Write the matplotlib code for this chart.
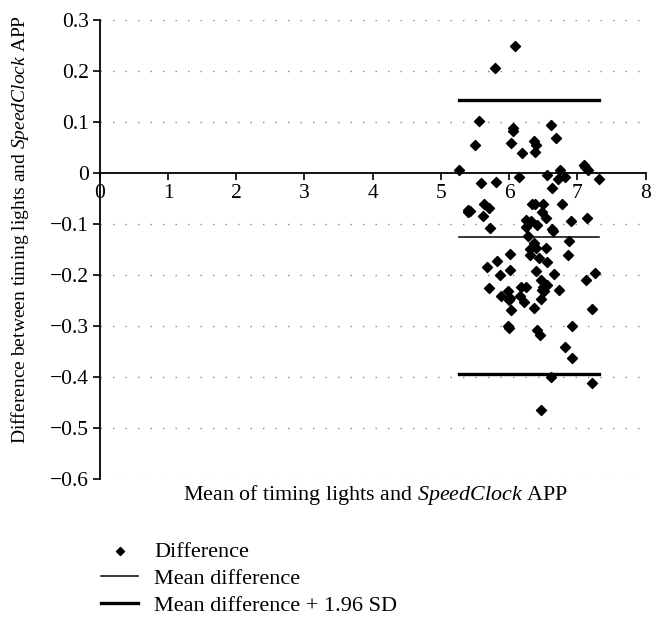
import matplotlib.pyplot as plt
from matplotlib.ticker import FuncFormatter

plt.rcParams['font.family'] = ['Liberation Serif', 'DejaVu Serif']
plt.rcParams['mathtext.fontset'] = 'custom'
plt.rcParams['mathtext.rm'] = 'Liberation Serif'
plt.rcParams['mathtext.it'] = 'Liberation Serif:italic'

# medias (eje x) y diferencias (eje y)
media = [6.09, 5.79, 5.55, 5.50, 6.05, 6.05, 6.03, 6.19, 6.36, 6.39,
         6.38, 6.61, 6.69, 5.27, 6.74, 7.09, 7.11, 7.15, 6.14, 6.56,
         6.72, 6.82, 7.31, 5.58, 5.81, 6.62, 5.63, 5.71, 5.40, 5.42,
         5.39, 5.62, 5.72, 6.33, 6.38, 6.50, 6.78, 6.48, 6.54, 6.25,
         6.32, 6.25, 6.40, 6.62, 6.64, 6.90, 7.14, 6.28, 6.87, 6.37,
         6.39, 6.30, 6.31, 6.54, 6.86, 6.01, 6.43, 5.82, 6.56, 5.67,
         6.01, 6.39, 6.65, 5.86, 7.26, 7.12, 6.46, 5.70, 6.17, 6.25,
         6.56, 6.50, 6.48, 6.51, 5.98, 6.73, 5.88, 6.16, 6.01, 6.00,
         6.46, 6.21, 6.03, 6.37, 7.22, 5.98, 5.99, 6.92, 6.41, 6.45,
         6.81, 6.92, 6.61, 7.22, 6.46]
diferencia = [0.250, 0.205, 0.101, 0.054, 0.088, 0.083, 0.059, 0.040, 0.063, 0.055,
              0.041, 0.094, 0.068, 0.006, 0.005, 0.016, 0.012, 0.006, -0.008, -0.003,
              -0.012, -0.008, -0.012, -0.020, -0.018, -0.030, -0.060, -0.069, -0.072, -0.075,
              -0.076, -0.084, -0.107, -0.060, -0.061, -0.060, -0.061, -0.077, -0.088, -0.093,
              -0.095, -0.105, -0.103, -0.110, -0.114, -0.094, -0.088, -0.124, -0.134, -0.137,
              -0.147, -0.149, -0.160, -0.148, -0.160, -0.159, -0.167, -0.172, -0.175, -0.185,
              -0.191, -0.192, -0.198, -0.201, -0.197, -0.209, -0.209, -0.226, -0.224, -0.224,
              -0.219, -0.224, -0.229, -0.231, -0.232, -0.230, -0.242, -0.241, -0.245, -0.250,
              -0.247, -0.254, -0.268, -0.264, -0.267, -0.301, -0.305, -0.300, -0.307, -0.318,
              -0.341, -0.362, -0.401, -0.411, -0.464]

# lineas de la media y limites de acuerdo
media_dif = -0.125
limite_sup = 0.144
limite_inf = -0.394
rango_lineas = [5.26, 7.32]

fig = plt.figure(figsize=(6.65, 6.26), dpi=100)
ax = fig.add_axes([0.150, 0.235, 0.821, 0.733])

# grilla punteada
for y in [0.3, 0.2, 0.1, -0.1, -0.2, -0.3, -0.4, -0.5, -0.6]:
    ax.axhline(y, color='#888888', lw=1, linestyle=(0, (1, 8)), zorder=0)

ax.scatter(media, diferencia, marker='D', s=26, color='black', zorder=3, label='Difference')
ax.plot(rango_lineas, [media_dif, media_dif], color='black', lw=1.1, label='Mean difference')
ax.plot(rango_lineas, [limite_sup, limite_sup], color='black', lw=2.4, label='Mean difference + 1.96 SD')
ax.plot(rango_lineas, [limite_inf, limite_inf], color='black', lw=2.4)

ax.set_xlim(0, 8)
ax.set_ylim(-0.6, 0.3)
ax.set_xticks(range(9))
ax.set_yticks([0.3, 0.2, 0.1, 0, -0.1, -0.2, -0.3, -0.4, -0.5, -0.6])
ax.yaxis.set_major_formatter(FuncFormatter(
    lambda v, p: '0' if abs(v) < 1e-9 else f'{v:.1f}'.replace('-', '\u2212')))

# eje x en y = 0
ax.spines['bottom'].set_position(('data', 0))
ax.spines['top'].set_visible(False)
ax.spines['right'].set_visible(False)
ax.spines['bottom'].set_linewidth(1.3)
ax.spines['left'].set_linewidth(1.3)
ax.tick_params(axis='both', direction='out', length=5, width=1.2, labelsize=15.5, pad=3)

fig.text(0.030, 0.633, 'Difference between timing lights and $\\it{SpeedClock}$ APP',
         rotation=90, ha='center', va='center', fontsize=14)
fig.text(0.564, 0.209, 'Mean of timing lights and $\\it{SpeedClock}$ APP',
         ha='center', va='center', fontsize=15.8)

fig.legend(loc='upper left', bbox_to_anchor=(0.138, 0.150), frameon=False, fontsize=16,
           handlelength=1.7, handletextpad=0.7, labelspacing=0.3, borderaxespad=0,
           scatterpoints=1, markerscale=0.8)

fig.savefig('out.png', dpi=100)
